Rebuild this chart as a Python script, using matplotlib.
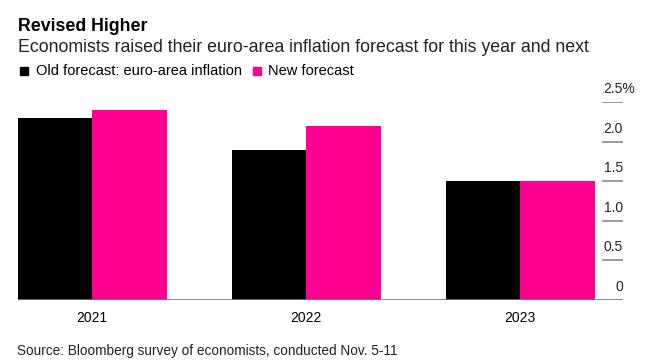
import numpy as np
import matplotlib.pyplot as plt

plt.rcParams['font.family'] = ['Liberation Sans', 'DejaVu Sans']

years = ['2021', '2022', '2023']
old_forecast = [2.3, 1.9, 1.5]
new_forecast = [2.4, 2.2, 1.5]
yticks = [0, 0.5, 1.0, 1.5, 2.0, 2.5]
ytick_labels = ['0', '0.5', '1.0', '1.5', '2.0', '2.5%']

fig = plt.figure(figsize=(6.47, 3.64), dpi=100)
ax = fig.add_axes([18/647, 1-300/364, 605/647, 198/364])

x = np.arange(len(years))
w = 0.348
ax.bar(x - w/2, old_forecast, w, color='black')
ax.bar(x + w/2, new_forecast, w, color='#ff0090')

ax.set_xlim(-0.346, 2.481)
ax.set_ylim(0, 2.5)
for s in ax.spines.values():
    s.set_visible(False)
ax.set_yticks([])
ax.set_xticks(x)
ax.set_xticklabels(years, fontsize=10)
ax.tick_params(axis='x', length=0, pad=8)

# baseline and right-side tick marks
ax.axhline(0, color='#777777', lw=1.2, zorder=3)
for v, lab in zip(yticks, ytick_labels):
    if v > 0:
        ax.axhline(v, xmin=0.967, xmax=1.0, color='#888888', lw=1.2)
    if lab.endswith('%'):
        # number stays right-aligned with the others, % hangs past the edge
        ax.annotate(lab, xy=(1.0, v), xycoords=('axes fraction', 'data'),
                    xytext=(-13.9, 9.4), textcoords='offset points',
                    ha='left', va='center', fontsize=10, color='#222222')
    else:
        ax.annotate(lab, xy=(1.0, v), xycoords=('axes fraction', 'data'),
                    xytext=(0, 9.4), textcoords='offset points',
                    ha='right', va='center', fontsize=10, color='#222222')

# titles
fig.text(18/647, 1-31/364, 'Revised Higher', fontsize=12.8, fontweight='bold')
fig.text(18/647, 1-52/364,
         'Economists raised their euro-area inflation forecast for this year and next',
         fontsize=12.8, color='#222222')

# legend
fig.patches.append(plt.Rectangle((20/647, 1-75/364), 7.5/647, 7.5/364,
                                 transform=fig.transFigure, color='black'))
fig.text(36/647, 1-75/364, 'Old forecast: euro-area inflation', fontsize=10.5)
fig.patches.append(plt.Rectangle((253/647, 1-75/364), 7.5/647, 7.5/364,
                                 transform=fig.transFigure, color='#ff0090'))
fig.text(268/647, 1-75/364, 'New forecast', fontsize=10.5)

fig.text(17/647, 1-355/364, 'Source: Bloomberg survey of economists, conducted Nov. 5-11',
         fontsize=9.8, color='#222222')

fig.savefig('out.png', dpi=100)
